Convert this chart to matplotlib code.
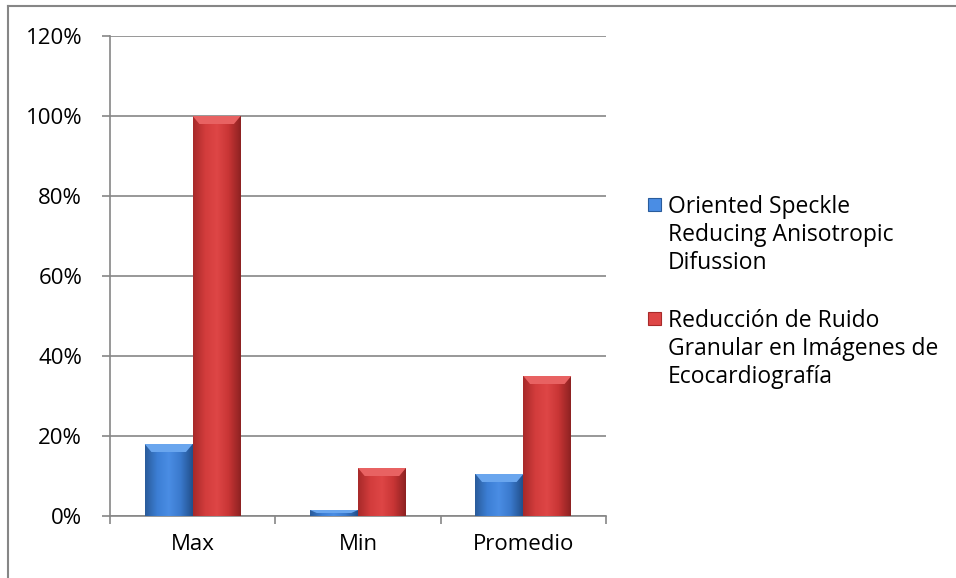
import numpy as np
import matplotlib.pyplot as plt
from matplotlib.patches import Rectangle
from matplotlib.lines import Line2D
from matplotlib.colors import LinearSegmentedColormap

plt.rcParams['font.family'] = ['Open Sans', 'DejaVu Sans']

categories = ["Max", "Min", "Promedio"]
osrad = [18, 1.5, 10.5]
rrg = [100, 12, 35]
series_names = [
    "Oriented Speckle\nReducing Anisotropic\nDifussion",
    "Reducción de Ruido\nGranular en Imágenes de\nEcocardiografía",
]
yticks = [0, 20, 40, 60, 80, 100, 120]

# light centre, dark edges, like a rounded column
blue_cmap = LinearSegmentedColormap.from_list(
    "b", ["#2a5c9c", "#3c7ed4", "#4a8de4", "#3a79cc", "#22508c"])
red_cmap = LinearSegmentedColormap.from_list(
    "r", ["#a82a2a", "#d23c3c", "#de4646", "#c83535", "#8e2222"])

fig = plt.figure(figsize=(9.56, 5.78), dpi=100)
ax = fig.add_axes([110 / 956, 1 - 516 / 578, 496 / 956, 480 / 578])

x = np.arange(len(categories))
w = 0.29
grad = np.linspace(0, 1, 64).reshape(1, -1)


def gradient_bars(xs, vals, cmap, top_color):
    bars = ax.bar(xs, vals, width=w, color="none", edgecolor="none", zorder=3)
    for b in bars:
        x0, y0 = b.get_x(), b.get_y()
        bw, bh = b.get_width(), b.get_height()
        im = ax.imshow(grad, cmap=cmap, aspect="auto", zorder=3,
                       extent=(x0, x0 + bw, y0, y0 + bh))
        im.set_clip_path(b)
        # bevelled top edge
        bev = min(2.0, bh * 0.5)
        ax.fill([x0, x0 + bw, x0 + bw * 0.86, x0 + bw * 0.14],
                [y0 + bh, y0 + bh, y0 + bh - bev, y0 + bh - bev],
                color=top_color, zorder=4, lw=0)
    return bars


gradient_bars(x - w / 2, osrad, blue_cmap, "#6aa6ee")
gradient_bars(x + w / 2, rrg, red_cmap, "#e86262")

ax.set_xlim(-0.5, len(categories) - 0.5)
ax.set_ylim(0, 120)
ax.set_yticks(yticks)
ax.set_yticklabels([f"{t}%" for t in yticks], fontsize=16)
ax.set_xticks(x)
ax.set_xticklabels(categories, fontsize=16)
ax.set_xticks(np.arange(-0.5, len(categories)), minor=True)
ax.tick_params(axis="x", which="major", length=0, pad=13)
ax.tick_params(axis="x", which="minor", length=6, width=1.2, color="#868686")
ax.tick_params(axis="y", length=6, width=1.2, color="#868686", pad=14)
ax.grid(axis="y", color="#868686", lw=1.2, zorder=0)
for s in ["top", "right"]:
    ax.spines[s].set_visible(False)
for s in ["left", "bottom"]:
    ax.spines[s].set_color("#868686")
    ax.spines[s].set_linewidth(1.2)

# legend drawn in pixel coordinates of the figure
def px(xp, yp):
    return xp / 956, 1 - yp / 578

for (ytop, cmap, name) in [(198, blue_cmap, series_names[0]),
                          (312, red_cmap, series_names[1])]:
    lx, ly = px(648, ytop + 13)
    fig.patches.append(Rectangle((lx, ly), 13 / 956, 13 / 578,
                                 transform=fig.transFigure,
                                 facecolor=cmap(0.5), edgecolor=cmap(0.0), lw=0.8))
    tx, ty = px(668, ytop - 3)
    fig.text(tx, ty, name, fontsize=16.5, va="top", ha="left", linespacing=1.22)

# chart frame
fig.lines.append(Line2D([8 / 956, 8 / 956], [0, 1 - 6 / 578],
                        transform=fig.transFigure, color="#868686", lw=1.5))
fig.lines.append(Line2D([8 / 956, 1], [1 - 6 / 578, 1 - 6 / 578],
                        transform=fig.transFigure, color="#868686", lw=1.5))

fig.savefig("out.png", dpi=100)
